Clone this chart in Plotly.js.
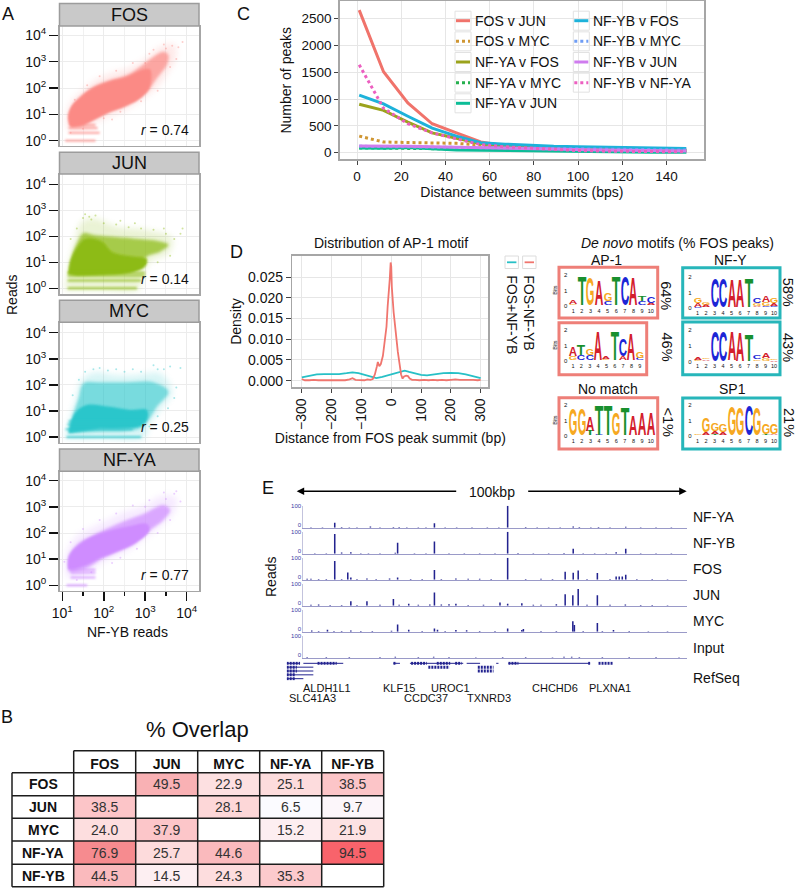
<!DOCTYPE html>
<html>
<head>
<meta charset="utf-8">
<script src="https://cdn.plot.ly/plotly-3.0.1.min.js"></script>
<style>body { margin: 0; background: #fff; }</style>
</head>
<body>
<div id="chart" style="width:797px;height:889px"></div>
<script>
// A: outlines of the read clouds, log10 values
var fosHaloX = [1.12,1.10,1.2,1.45,1.75,2.15,2.6,3.0,3.35,3.7,3.75,3.55,3.3,2.95,2.5,2.1,1.7,1.3];
var fosHaloY = [.45,.95,1.45,1.85,2.25,2.55,2.75,3.1,3.55,3.65,3.2,2.6,2.05,1.6,1.15,.9,.6,.38];
var fosMidX = [1.19,1.16,1.23,1.43,1.75,2.15,2.56,2.88,3.20,3.44,3.56,3.52,3.28,3.08,2.80,2.48,2.15,1.83,1.51,1.23];
var fosMidY = [.59,.91,1.29,1.67,2.05,2.30,2.49,2.81,3.19,3.38,3.25,2.87,2.37,1.92,1.54,1.29,1.10,.85,.59,.53];
var fosCoreX = [1.17,1.14,1.22,1.42,1.72,2.12,2.58,2.95,3.12,3.1,2.85,2.5,2.15,1.83,1.5,1.22];
var fosCoreY = [.58,.94,1.3,1.62,1.98,2.24,2.44,2.7,2.7,2.0,1.58,1.3,1.1,.85,.6,.53];
var fosStripX = [1.07,1.8,null,1.15,1.9,null,1.15,1.85,null,1.2,1.8];
var fosStripY = [0,0,null,.3,.3,null,.48,.48,null,.6,.6];
var fosSpeckX = [1.3,1.6,1.9,2.3,2.7,3.1,3.5,3.65,3.8,3.9,3.3,2.9,2.4,2.0,1.5,1.2,3.6,3.75,2.2,3.0,3.45,3.2];
var fosSpeckY = [1.55,2.1,2.45,2.65,2.95,3.3,3.5,3.6,3.55,3.75,1.9,1.5,1.1,.85,.45,.3,2.8,3.1,.8,2.95,3.65,3.45];

var junHaloX = [1.06,1.15,1.31,1.47,1.75,2.31,3.04,3.65,3.56,3.12,2.92,2.84,1.91,1.10];
var junHaloY = [-.03,.83,1.86,2.56,2.69,2.37,2.24,1.92,1.35,1.03,.45,-.06,-.09,-.09];
var junMidX = [1.15,1.20,1.35,1.51,1.75,2.15,2.72,3.28,3.56,3.36,3.04,2.88,2.56,1.91,1.35];
var junMidY = [.58,1.09,1.73,2.12,2.05,1.99,1.92,1.83,1.67,1.41,1.22,.83,.64,.55,.51];
var junCoreX = [1.15,1.20,1.35,1.55,1.95,2.2,2.7,3.04,3.0,2.7,1.9,1.35];
var junCoreY = [.55,1.05,1.55,1.90,1.80,1.4,1.22,1.12,.85,.62,.52,.5];
var junStripX = [1.13,2.8,null,1.13,2.9,null,1.13,3.0,null,1.13,3.0];
var junStripY = [0,0,null,.3,.3,null,.48,.48,null,.6,.6];
var junSpeckX = [1.2,1.35,1.5,1.65,1.8,2.0,2.3,2.6,2.9,3.2,3.5,3.7,3.85,3.6,3.3,3.0,1.55,1.7,2.4,3.45,3.9,2.75];
var junSpeckY = [1.9,2.3,2.7,2.75,2.8,2.5,2.45,2.35,2.3,2.25,2.1,1.9,2.1,1.25,1.0,.95,2.85,2.65,2.6,2.3,2.3,2.5];

var mycHaloX = [1.06,1.15,1.31,1.47,1.79,2.23,2.80,3.36,3.65,3.36,3.12,2.96,1.91,1.10];
var mycHaloY = [-.03,.52,1.36,2.19,2.48,2.38,2.38,2.44,1.74,1.04,.52,-.05,-.08,-.08];
var mycMidX = [1.15,1.23,1.39,1.51,1.91,2.56,3.20,3.56,3.28,3.08,2.88,1.91];
var mycMidY = [.14,.72,1.48,2.06,2.10,2.10,2.10,1.74,1.16,.65,.33,.20];
var mycCoreX = [1.15,1.20,1.33,1.59,2.15,2.64,3.04,3.04,2.84,1.91];
var mycCoreY = [.14,.52,.97,1.23,1.16,1.04,1.04,.65,.40,.33];
var mycStripX = [1.1,2.9,null,1.08,2.7,null,1.12,2.9,null,1.15,3.0];
var mycStripY = [0,0,null,.3,.3,null,.48,.48,null,.6,.6];
var mycSpeckX = [1.25,1.4,1.55,1.75,2.1,2.5,2.9,3.3,3.6,3.75,3.85,3.55,3.3,3.1,3.45,1.9,2.3,3.7,3.2,2.7];
var mycSpeckY = [1.6,2.2,2.5,2.6,2.55,2.5,2.5,2.6,2.7,1.9,2.65,1.1,.8,.4,2.6,2.65,2.6,1.5,2.75,2.6];

var nfyaHaloX = [1.1,1.08,1.3,1.7,2.1,2.5,3.0,3.35,3.75,3.7,3.4,3.0,2.5,2.0,1.6,1.25];
var nfyaHaloY = [.3,1.1,1.8,2.2,2.5,2.8,3.05,3.4,3.35,2.8,2.3,1.8,1.25,.9,.5,.25];
var nfyaMidX = [1.15,1.15,1.39,1.75,2.15,2.56,2.96,3.44,3.60,3.44,3.12,2.76,2.35,1.91,1.59,1.23];
var nfyaMidY = [.52,1.10,1.61,1.92,2.22,2.50,2.73,3.07,2.88,2.50,2.11,1.61,1.29,.97,.65,.52];
var nfyaCoreX = [1.14,1.17,1.41,1.75,2.15,2.64,3.04,3.1,2.74,2.33,1.91,1.59,1.21];
var nfyaCoreY = [.62,1.14,1.56,1.88,2.1,2.27,2.35,2.1,1.6,1.3,1.04,.78,.6];
var nfyaStripX = [1.1,1.6,null,1.2,1.8,null,1.2,1.8,null,1.2,1.8];
var nfyaStripY = [0,0,null,.3,.3,null,.48,.48,null,.6,.6];
var nfyaSpeckX = [1.05,1.2,1.5,1.9,2.3,2.7,3.1,3.45,3.7,3.85,3.6,3.3,2.8,2.2,1.7,1.35,3.5,3.75,3.0,2.4];
var nfyaSpeckY = [.9,1.65,2.15,2.5,2.75,3.05,3.25,3.55,3.5,3.2,2.5,2.0,1.4,.85,.5,.2,3.3,3.6,3.0,1.05];

var scatterNames = ['FOS','JUN','MYC','NF-YA'];
var scatterColors = ['#fb8a85','#8dbb12','#2cc6cb','#cf8cff'];
var scatterMidAlpha = [.7,.72,.55,.7];
var scatterR = ['0.74','0.14','0.25','0.77'];
var logTickVals = [0,1,2,3,4];
var logTickText = ['10<sup>0</sup>','10<sup>1</sup>','10<sup>2</sup>','10<sup>3</sup>','10<sup>4</sup>'];

// B
var overlapNames = ['FOS','JUN','MYC','NF-YA','NF-YB'];
var overlapFos = [null,49.5,22.9,25.1,38.5];
var overlapJun = [38.5,null,28.1,6.5,9.7];
var overlapMyc = [24.0,37.9,null,15.2,21.9];
var overlapNfya = [76.9,25.7,44.6,null,94.5];
var overlapNfyb = [44.5,14.5,24.3,35.3,null];

// C
var summitDist = [1,12,23,34,45,56,67,78,89,100,111,122,133,144,149];
var fosJun = [2660,1510,930,540,370,200,130,100,90,80,70,65,60,55,50];
var fosMyc = [310,200,190,180,175,140,110,95,80,70,60,55,50,45,40];
var nfyaFos = [905,790,570,370,270,170,120,95,80,70,60,55,50,45,40];
var nfyaMyc = [90,85,80,70,60,55,50,45,40,40,35,30,30,25,25];
var nfyaJun = [90,85,95,75,50,45,40,30,20,15,15,12,10,10,10];
var nfybFos = [1075,910,680,460,310,185,160,135,120,110,105,100,95,85,80];
var nfybMyc = [120,115,110,100,90,85,80,75,70,70,70,65,60,55,50];
var nfybJun = [125,125,120,110,100,90,85,75,65,55,50,45,40,35,30];
var nfybNfya = [1640,830,540,370,260,150,110,85,60,40,30,25,20,20,15];

// D
var redX = [-300,-290,-275,-260,-245,-230,-215,-200,-185,-170,-155,-140,-130,-120,-105,-90,-80,-70,-62,-55,-48,-45,-40,-35,-28,-24,-20,-16,-12,-8,-5,-2,0,2,5,8,11,15,18,22,28,33,38,43,50,56,62,70,80,95,110,125,140,155,170,185,200,215,230,245,260,275,290,300];
var redY = [.0004,.0001,.0001,.0002,.0001,.0001,.0002,.0002,.0001,.0002,.0001,.0003,.0006,.0002,.0002,.0001,.0003,.0002,.0004,.0015,.0035,.0045,.0035,.004,.006,.0085,.0105,.013,.018,.021,.0245,.0285,.0275,.0225,.0185,.0165,.0145,.011,.009,.007,.004,.0015,.0005,.001,.0012,.0011,.0005,.0002,.0002,.0001,.0002,.0001,.0002,.0001,.0002,.0001,.0002,.0003,.0002,.0002,.0003,.0002,.0001,.0002];
var cyanX = [-300,-275,-250,-225,-200,-175,-150,-130,-110,-90,-70,-50,-30,-10,10,30,45,60,80,100,120,150,175,200,225,250,275,300];
var cyanY = [.0008,.0012,.0015,.0016,.0016,.0016,.0018,.002,.0018,.0014,.0009,.0006,.0009,.0013,.0018,.0022,.0024,.0021,.0017,.0014,.0013,.0016,.0018,.0019,.0018,.0015,.0011,.0006];

// logos: letters from the bottom of each stack up, heights in bits
var logoAp1A = [['G.12','A.28'],['T1.95'],['G1.85'],['A1.7'],['C.25','G.55'],['T1.9'],['C1.9'],['A1.85'],['C.25','T.35'],['A.15','C.4']];
var logoAp1B = [['G.25','A.6'],['C.35','T.7'],['C.3','G.4'],['A1.9'],['G.05','A.15'],['T1.95'],['A.25','C1.1'],['A1.8'],['C.15','G.45']];
var logoNoMatch = [['G1.7'],['G1.7'],['T.3','A.9'],['C.05','T1.95'],['T2'],['G1.5'],['T1.8'],['A1.3'],['A1.45'],['A1.5']];
var logoNfyA = [['C.05','A.25','G.3'],['A.15','G.15'],['C1.95'],['C1.95'],['A1.85'],['A1.85'],['T1.9'],['A.1','G.15','C.35'],['C.1','G.25','A.45'],['C.1','A.15','G.3']];
var logoNfyB = [['G.05','A.15'],['A.1','G.1'],['C1.95'],['C1.95'],['T.03','A1.85'],['A1.9'],['T1.7'],['G.1','C.25'],['G.15','A.3'],['A.05','G.05']];
var logoSp1 = [['A.03','G.05'],['A.2','G.9'],['T.1','A.15','G.5'],['A.2','G.5'],['G1.9'],['G1.85'],['C1.95'],['G1.8'],['T.1','G.7'],['A.1','G.65']];
var letterColors = {A: '#d3202c', C: '#1c25d6', G: '#f6a821', T: '#18902e'};

// E: peak positions in kbp from the left of the window, heights in reads
var nfyaPos = [2,5,8.2,10,12,14,17.5,20,23.5,25,27,30,32,34.2,37,40,44,48,51,53.3,58,61,64,67,70.4,72,75,77,80,84.1,88,92,96];
var nfyaReads = [2,2,22,3,2,2,5,2,3,3,2,2,2,20,2,2,2,2,2,100,3,2,2,2,5,3,2,3,2,4,2,2,2];
var nfybPos = [3,6,8.2,10,12.4,15,17,20,24,24.6,29,32,34.2,38,42,46,50,53.3,56,60,64,68,70.4,73,76,79,81.6,84.1,88,92,96];
var nfybReads = [2,2,90,6,7,2,2,2,4,50,2,2,55,2,2,2,2,100,3,2,2,3,23,2,2,2,7,23,2,2,2];
var fosPos = [1,2,4,6,8.2,10,11.6,12.4,14,16.6,19,22.5,24.6,28,31,34.2,36,39.8,43,46,49,53.3,58,62,65,68.3,70.4,71.7,74,76.7,80,81.6,82.4,83.2,84.1,87,91,95];
var fosReads = [4,4,3,3,85,3,33,10,3,6,3,5,10,3,3,44,3,5,4,4,3,100,3,4,3,36,32,42,3,30,3,14,14,14,23,3,3,2];
var junPos = [2,4,7,10,12.4,14,16.6,20,23.5,25,27.5,30,33,34.2,36,38,39.8,43,47,51.3,53.3,57,60,62,66,68.3,70.3,71.7,74,76.7,80,84,88,91,95];
var junReads = [4,5,3,3,20,3,20,4,30,4,9,4,5,60,6,7,9,3,4,15,9,11,4,4,7,52,48,76,4,48,4,6,3,3,2];
var mycPos = [2.2,4,6.3,8,10,12.4,15,18,23,24.6,27.5,31,34.2,35,37,39.8,42.6,46,50,53.3,57,57.4,62,66,70.3,70.7,73,76.7,78,80.9,85,90,95];
var mycReads = [6,3,9,3,3,5,3,3,4,33,9,3,15,9,3,8,7,3,3,14,8,12,3,3,47,30,3,40,3,8,3,2,2];
var inputPos = [1,6,12,20,24,30,34,38,45,52,58,65,68,70,72,78,85,92,98];
var inputReads = [3,3,3,3,4,3,4,3,2,3,3,2,4,4,3,3,3,3,2];
var geneThinX = [-4.35,-.87,null,0,10.4,null,23.5,25.2,null,27.8,41.7,null,42.6,46.1,null,50.3,50.9,null,53.5,74.8,null,-4.35,2.6,null,-4.35,2.6,null,-4.35,2.6,null,-4.35,0];
var geneThinY = [1,1,null,1,1,null,1,1,null,1,1,null,1,1,null,1,1,null,1,1,null,2,2,null,3,3,null,4,4,null,5,5];
var geneExonX = [-4.35,-.87,null,3.7,8.7,null,23.5,24.3,null,28.1,32.2,null,34.8,38.3,null,39.6,41.3,null,53.5,56.1,null,74.3,74.8,null,77,80.9,null,-4.35,-1.7,null,32.6,38.1,null,45.5,49.6,null,-4.35,-1.7,null,45.5,49.6,null,-4.35,-2,null,-4.35,-2];
var geneExonY = [1,1,null,1,1,null,1,1,null,1,1,null,1,1,null,1,1,null,1,1,null,1,1,null,1,1,null,2,2,null,2,2,null,2,2,null,3,3,null,3,3,null,4,4,null,5,5];

var W = 797, H = 889;
var FONT = 'Liberation Sans';
var gd = document.getElementById('chart');
var traces = [], shapes = [], annotations = [];
var logoLetters = {};
var layout = {
    width: W, height: H, autosize: false,
    margin: {l: 0, r: 0, t: 0, b: 0},
    paper_bgcolor: '#fff', plot_bgcolor: '#fff',
    font: {family: FONT, size: 14, color: '#111'},
    showlegend: false, hovermode: false, barmode: 'overlay'
};
var axisCount = 0;

function px(x) { return x / W; }
function py(y) { return 1 - y / H; }

// new axis pair placed by pixel box, returns the trace refs
function addAxes(x0, x1, y0, y1, xOpts, yOpts) {
    axisCount++;
    var n = axisCount === 1 ? '' : String(axisCount);
    xOpts.domain = [px(x0), px(x1)];
    xOpts.anchor = 'y' + n;
    yOpts.domain = [py(y1), py(y0)];
    yOpts.anchor = 'x' + n;
    layout['xaxis' + n] = xOpts;
    layout['yaxis' + n] = yOpts;
    return {x: 'x' + n, y: 'y' + n};
}

function note(text, x, y, size, opts) {
    var a = {text: text, x: px(x), y: py(y), xref: 'paper', yref: 'paper', showarrow: false,
        xanchor: 'center', yanchor: 'middle', font: {family: FONT, size: size, color: '#111'}};
    for (var k in (opts || {})) { a[k] = opts[k]; }
    annotations.push(a);
}

function box(x0, y0, x1, y1, line, fill, layer) {
    shapes.push({type: 'rect', xref: 'paper', yref: 'paper', x0: px(x0), x1: px(x1), y0: py(y0), y1: py(y1),
        line: line, fillcolor: fill || 'rgba(0,0,0,0)', layer: layer || 'above'});
}

function rule(x0, y0, x1, y1, color, width, dash) {
    shapes.push({type: 'line', xref: 'paper', yref: 'paper', x0: px(x0), x1: px(x1), y0: py(y0), y1: py(y1),
        line: {color: color, width: width, dash: dash || 'solid'}, layer: 'above'});
}

// ---- panel letters
note('A', 8, 14, 18); note('B', 7, 717, 18); note('C', 243, 14, 18); note('D', 236, 252, 18); note('E', 268, 488, 18);

// ---- A: four read clouds
function drawCloud(i, top, bottom, stripTop, y4, y0, halo, mid, core, strip, speck, rY) {
    var last = i === 3;
    var decade = (y0 - y4) / 4;
    var xDecade = 41.4;
    var refs = addAxes(59.5, 199, top, bottom, {
        range: [1 - 2.8 / xDecade, 4 + 12.3 / xDecade],
        tickvals: logTickVals.slice(1), ticktext: logTickText.slice(1),
        showticklabels: last, ticks: last ? 'outside' : '', ticklen: 9, tickwidth: 1.5, tickcolor: '#111',
        tickfont: {size: 14}, showline: true, mirror: true, linecolor: '#a6a6a6', linewidth: 1.5,
        gridcolor: '#ececec', zeroline: false,
        minor: {tickvals: [1.5,2.5,3.5], ticks: last ? 'outside' : '', ticklen: 4, tickwidth: 1.5, tickcolor: '#111', showgrid: true, gridcolor: '#f1f1f1'}
    }, {
        range: [-(bottom - y0) / decade, 4 + (y4 - top) / decade],
        tickvals: logTickVals, ticktext: logTickText, ticks: 'outside', ticklen: 9, tickwidth: 1.5, tickcolor: '#111',
        tickfont: {size: 14}, showline: true, mirror: true, linecolor: '#a6a6a6', linewidth: 1.5,
        gridcolor: '#ececec', zeroline: false
    });
    var color = scatterColors[i];
    traces.push({x: halo[0], y: halo[1], xaxis: refs.x, yaxis: refs.y, mode: 'lines', fill: 'toself', fillcolor: color, opacity: .18,
        line: {shape: 'spline', width: 0, color: color}});
    traces.push({x: mid[0], y: mid[1], xaxis: refs.x, yaxis: refs.y, mode: 'lines', fill: 'toself', fillcolor: color, opacity: scatterMidAlpha[i],
        line: {shape: 'spline', width: 0, color: color}});
    traces.push({x: core[0], y: core[1], xaxis: refs.x, yaxis: refs.y, mode: 'lines', fill: 'toself', fillcolor: color,
        line: {shape: 'spline', width: 0, color: color}});
    traces.push({x: strip[0], y: strip[1], xaxis: refs.x, yaxis: refs.y, mode: 'lines', opacity: .8,
        line: {width: 2, color: color}});
    traces.push({x: speck[0], y: speck[1], xaxis: refs.x, yaxis: refs.y, mode: 'markers', opacity: .4,
        marker: {size: 2, color: color}});
    box(59.5, stripTop, 199, top, {color: '#9c9c9c', width: 1.5}, '#c9c9c9');
    note(scatterNames[i], 129, (stripTop + top) / 2, 18);
    note('<i>r</i> = ' + scatterR[i], 165, rY, 14);
}
drawCloud(0, 26, 145.5, 3.5, 35.3, 140.7, [fosHaloX,fosHaloY], [fosMidX,fosMidY], [fosCoreX,fosCoreY], [fosStripX,fosStripY], [fosSpeckX,fosSpeckY], 130);
drawCloud(1, 174, 294.3, 152.3, 184.3, 288.3, [junHaloX,junHaloY], [junMidX,junMidY], [junCoreX,junCoreY], [junStripX,junStripY], [junSpeckX,junSpeckY], 279.3);
drawCloud(2, 322.3, 442.5, 300.3, 332.7, 437, [mycHaloX,mycHaloY], [mycMidX,mycMidY], [mycCoreX,mycCoreY], [mycStripX,mycStripY], [mycSpeckX,mycSpeckY], 427.3);
drawCloud(3, 471.3, 590.7, 449, 480.7, 585.3, [nfyaHaloX,nfyaHaloY], [nfyaMidX,nfyaMidY], [nfyaCoreX,nfyaCoreY], [nfyaStripX,nfyaStripY], [nfyaSpeckX,nfyaSpeckY], 575);
note('Reads', 12, 295, 14, {textangle: -90});
note('NF-YB reads', 128, 632, 14);

// ---- B: overlap table
var overlapRefs = addAxes(73.7, 383.7, 772.7, 886.7, {
    type: 'category', side: 'top', ticks: '', showgrid: false, zeroline: false,
    tickfont: {size: 14, weight: 'bold'}
}, {
    type: 'category', autorange: 'reversed', showticklabels: false, ticks: '', showgrid: false, zeroline: false
});
traces.push({type: 'heatmap', x: overlapNames, y: overlapNames,
    z: [overlapFos, overlapJun, overlapMyc, overlapNfya, overlapNfyb],
    xaxis: overlapRefs.x, yaxis: overlapRefs.y, zmin: 0, zmax: 100, showscale: false,
    colorscale: [[0,'#ffffff'],[.065,'#fbfbff'],[.15,'#fdeef1'],[.25,'#fddcdd'],[.385,'#fcc5c8'],[.5,'#f9b0b3'],[.77,'#f68b8f'],[.945,'#f8636b'],[1,'#f65a62']],
    texttemplate: '%{z:.1f}', textfont: {family: FONT, size: 14, color: '#333'}, hoverinfo: 'skip'});
var tableColX = [73.7,135.7,197.7,259.7,321.7,383.7];
var tableRowY = [772.7,795.7,818.3,841,864.3,886.7];
tableColX.forEach(function(x) { rule(x, 750.7, x, 886.7, '#1c1c1c', 1.5); });
tableRowY.forEach(function(y) { rule(12, y, 383.7, y, '#1c1c1c', 1.5); });
rule(73.7, 750.7, 383.7, 750.7, '#1c1c1c', 1.5);
rule(12, 772.7, 12, 886.7, '#1c1c1c', 1.5);
overlapNames.forEach(function(name, i) {
    note('<b>' + name + '</b>', 43, (tableRowY[i] + tableRowY[i + 1]) / 2, 14);
});
note('% Overlap', 197, 729, 22);

// ---- C: distance between summits
var cRefs = addAxes(339.7, 704, 1.3, 159.3, {
    range: [-7.83, 157], dtick: 20, tick0: 0, ticks: 'outside', ticklen: 4, tickcolor: '#444',
    tickfont: {size: 13.5}, showline: true, mirror: true, linecolor: '#a6a6a6', linewidth: 1.5,
    gridcolor: '#e6e6e6', zeroline: false,
    title: {text: 'Distance between summits (bps)', font: {size: 14}, standoff: 4}
}, {
    range: [-123, 2825], tickvals: [0,500,1000,1500,2000,2500], ticks: 'outside', ticklen: 4, tickcolor: '#444',
    tickfont: {size: 13.5}, showline: true, mirror: true, linecolor: '#a6a6a6', linewidth: 1.5,
    gridcolor: '#e6e6e6', zeroline: false,
    title: {text: 'Number of peaks', font: {size: 14}, standoff: 6}
});
var overlapSeries = [
    {name: 'FOS v JUN', y: fosJun, color: '#f0736b', dash: 'solid'},
    {name: 'FOS v MYC', y: fosMyc, color: '#cf9633', dash: 'dot'},
    {name: 'NF-YA v FOS', y: nfyaFos, color: '#9ba31c', dash: 'solid'},
    {name: 'NF-YA v MYC', y: nfyaMyc, color: '#25b04e', dash: 'dot'},
    {name: 'NF-YA v JUN', y: nfyaJun, color: '#0cbd97', dash: 'solid'},
    {name: 'NF-YB v FOS', y: nfybFos, color: '#1db2da', dash: 'solid'},
    {name: 'NF-YB v MYC', y: nfybMyc, color: '#6f9df5', dash: 'dot'},
    {name: 'NF-YB v JUN', y: nfybJun, color: '#cf7cee', dash: 'solid'},
    {name: 'NF-YB v NF-YA', y: nfybNfya, color: '#ec5fc0', dash: 'dot'}
];
overlapSeries.forEach(function(s, i) {
    traces.push({x: summitDist, y: s.y, xaxis: cRefs.x, yaxis: cRefs.y, mode: 'lines', name: s.name,
        line: {color: s.color, width: 3, dash: s.dash}});
    var col = i < 5 ? 0 : 1;
    var row = i < 5 ? i : i - 5;
    var kx = col === 0 ? 455 : 573.3;
    var ky = 20.7 + row * 20.65;
    box(kx, ky - 9.5, kx + 16, ky + 9.5, {color: '#e2e2e2', width: 1});
    rule(kx + 1, ky, kx + 15, ky, s.color, 3, s.dash);
    note(s.name, kx + 17.5, ky, 14, {xanchor: 'left'});
});

// ---- D: AP-1 motif density
var dRefs = addAxes(292.3, 488.3, 255.7, 387.3, {
    range: [-332, 325.6], tickvals: [-300,-200,-100,0,100,200,300], tickangle: -90, ticks: 'outside', ticklen: 4, tickcolor: '#444',
    tickfont: {size: 14}, showline: true, mirror: true, linecolor: '#a6a6a6', linewidth: 1.5,
    gridcolor: '#e6e6e6', zeroline: false,
    title: {text: 'Distance from FOS peak summit (bp)', font: {size: 14}, standoff: 4}
}, {
    range: [-.0016, .03014], tickvals: [0,.005,.01,.015,.02,.025], tickformat: '.3f', ticks: 'outside', ticklen: 5, tickcolor: '#444',
    tickfont: {size: 14}, showline: true, mirror: true, linecolor: '#a6a6a6', linewidth: 1.5,
    gridcolor: '#e6e6e6', zeroline: false,
    title: {text: 'Density', font: {size: 14}, standoff: 3}
});
traces.push({x: cyanX, y: cyanY, xaxis: dRefs.x, yaxis: dRefs.y, mode: 'lines', name: 'FOS+NF-YB', line: {color: '#27c0c6', width: 1.8}});
traces.push({x: redX, y: redY, xaxis: dRefs.x, yaxis: dRefs.y, mode: 'lines', name: 'FOS-NF-YB', line: {color: '#f0756e', width: 1.8}});
note('Distribution of AP-1 motif', 391, 243, 14);
box(505, 256, 518.4, 268.5, {color: '#dcdcdc', width: 1});
rule(507, 262.3, 516.4, 262.3, '#27c0c6', 1.8);
box(522.6, 256, 536, 268.5, {color: '#dcdcdc', width: 1});
rule(524.6, 262.3, 534, 262.3, '#f0756e', 1.8);
note('FOS+NF-YB', 511.7, 315, 14, {textangle: 90});
note('FOS-NF-YB', 529.3, 312.5, 14, {textangle: 90});

// ---- D: sequence logos
var RED_BOX = '#ee7f78', TEAL_BOX = '#27b6ba';
function drawLogo(letters, boxPx, axisX0, axisX1, y2, y0, color, showBits) {
    box(boxPx[0], boxPx[1], boxPx[2], boxPx[3], {color: color, width: 3}, null);
    var ticks = letters.map(function(d, i) { return i + 1; });
    var refs = addAxes(axisX0, axisX1, y2, y0, {
        range: [.43, letters.length + .5], tickvals: ticks, ticks: '', showgrid: false, zeroline: false,
        tickfont: {size: 5.5}, showline: false
    }, {
        range: [0, 2], tickvals: [0,1,2], ticks: '', showgrid: false, zeroline: false,
        tickfont: {size: 6}, showline: false
    });
    var pxPerBit = (y0 - y2) / 2;
    letters.forEach(function(stack, i) {
        var base = 0;
        stack.forEach(function(item) {
            var ch = item.charAt(0), bits = parseFloat(item.slice(1));
            logoLetters[annotations.length] = {h: bits * pxPerBit, w: (axisX1 - axisX0) / (letters.length + .07)};
            annotations.push({text: '<b>' + ch + '</b>', x: i + 1, y: base, xref: refs.x, yref: refs.y, showarrow: false,
                xanchor: 'center', yanchor: 'bottom', borderpad: 0, font: {family: FONT, size: 20, color: letterColors[ch]}});
            base += bits;
        });
    });
    if (showBits) { note('Bits', boxPx[0] - 4, (y0 + y2) / 2, 5.5, {textangle: -90}); }
}
drawLogo(logoAp1A, [559,267.3,657.7,318], 568.3, 655, 275.3, 306, RED_BOX, true);
drawLogo(logoAp1B, [559,322.7,646.7,374.7], 568.3, 644, 330.3, 361, RED_BOX, true);
drawLogo(logoNoMatch, [559,397.7,657.7,449], 568.3, 655, 405, 436.3, RED_BOX, true);
drawLogo(logoNfyA, [682.7,267.7,780,318], 692.7, 778.3, 277.3, 308.3, TEAL_BOX, false);
drawLogo(logoNfyB, [682.7,322,780,374.7], 692.7, 778.3, 330.3, 361.7, TEAL_BOX, false);
drawLogo(logoSp1, [682.7,398,780,449], 692.7, 778.3, 405, 436.3, TEAL_BOX, false);
note('<i>De novo</i> motifs (% FOS peaks)', 677, 243, 14);
note('AP-1', 606.7, 260, 14); note('NF-Y', 730, 260, 14);
note('No match', 607.7, 389, 14); note('SP1', 732.7, 389, 14);
note('64%', 666.5, 295.7, 14.5, {textangle: 90}); note('46%', 666.5, 347, 14.5, {textangle: 90});
note('<1%', 667.5, 422, 14.5, {textangle: 90}); note('58%', 788, 291.7, 14.5, {textangle: 90});
note('43%', 788, 347, 14.5, {textangle: 90}); note('21%', 789, 422, 14.5, {textangle: 90});

// ---- E: browser tracks
var TRACK_BLUE = '#23238f';
function drawTrack(label, pos, reads, baseline, labelY) {
    var refs = addAxes(303.3, 686.7, baseline - 22, baseline, {
        range: [0, 100], showticklabels: false, ticks: '', showgrid: false, zeroline: false,
        showline: true, linecolor: '#9a9ac8', linewidth: 1
    }, {
        range: [0, 100], tickvals: [12, 100], ticktext: ['0', '100'], ticks: '', showgrid: false, zeroline: false,
        tickfont: {size: 6, color: '#3a3aa5'}, showline: true, linecolor: '#c3c3dd', linewidth: 1
    });
    traces.push({type: 'bar', x: pos, y: reads, width: .4, xaxis: refs.x, yaxis: refs.y, marker: {color: TRACK_BLUE, line: {width: 0}}});
    note(label, 690.7, labelY, 14, {xanchor: 'left'});
}
drawTrack('NF-YA', nfyaPos, nfyaReads, 527.7, 517);
drawTrack('NF-YB', nfybPos, nfybReads, 553.7, 543);
drawTrack('FOS', fosPos, fosReads, 579.7, 569);
drawTrack('JUN', junPos, junReads, 605.7, 595);
drawTrack('MYC', mycPos, mycReads, 631.7, 621);
drawTrack('Input', inputPos, inputReads, 657.7, 648);

var geneRefs = addAxes(286.7, 686.7, 661.4, 680.6, {range: [-4.35, 100], visible: false}, {range: [5.5, .5], visible: false});
traces.push({x: geneThinX, y: geneThinY, xaxis: geneRefs.x, yaxis: geneRefs.y, mode: 'lines', line: {color: TRACK_BLUE, width: 1}});
traces.push({x: geneExonX, y: geneExonY, xaxis: geneRefs.x, yaxis: geneRefs.y, mode: 'lines', line: {color: TRACK_BLUE, width: 3, dash: '2px,1px'}});
note('RefSeq', 690.7, 678, 14, {xanchor: 'left'});
note('Reads', 271, 577, 14, {textangle: -90});

var geneNames = ['ALDH1L1','SLC41A3','KLF15','CCDC37','UROC1','TXNRD3','CHCHD6','PLXNA1'];
var geneLabelX = [327,312,399,426,451,489,555,610];
var geneLabelY = [688,698,688,698,688,698,688,688];
geneNames.forEach(function(g, i) { note(g, geneLabelX[i], geneLabelY[i], 11); });

note('100kbp', 492, 491.5, 14);
annotations.push({x: px(296.7), y: py(491.3), xref: 'paper', yref: 'paper', ax: 161, ay: 0, axref: 'pixel', ayref: 'pixel',
    text: '', showarrow: true, arrowhead: 2, arrowsize: 1, arrowwidth: 1.5, arrowcolor: '#000'});
annotations.push({x: px(686.7), y: py(491.3), xref: 'paper', yref: 'paper', ax: -160, ay: 0, axref: 'pixel', ayref: 'pixel',
    text: '', showarrow: true, arrowhead: 2, arrowsize: 1, arrowwidth: 1.5, arrowcolor: '#000'});

layout.shapes = shapes;
layout.annotations = annotations;

// logo letters keep a fixed column width, only their height follows the bits
function stretchLogoLetters() {
    Object.keys(logoLetters).forEach(function(idx) {
        var spec = logoLetters[idx];
        var g = gd.querySelector('.annotation[data-index="' + idx + '"]');
        if (!g) { return; }
        var text = g.querySelector('text');
        var rect = g.querySelector('rect');
        var tb = text.getBBox();
        var rb = rect.getBBox();
        var sx = spec.w / tb.width;
        var sy = spec.h / (20 * .73);
        var baseY = parseFloat(text.getAttribute('y'));
        text.setAttribute('transform',
            'translate(' + (rb.x + rb.width / 2) + ',' + (rb.y + rb.height) + ') scale(' + sx + ',' + sy + ') ' +
            'translate(' + (-(tb.x + tb.width / 2)) + ',' + (-baseY) + ')');
    });
}

// the clouds are thousands of faint points in the original, soften the outlines
function softenClouds() {
    var svg = gd.querySelector('.main-svg');
    var defs = svg.querySelector('defs');
    var blurs = {cloudHalo: 3, cloudMid: 1.8, cloudCore: 1.2, cloudStrip: .8};
    Object.keys(blurs).forEach(function(id) {
        var f = document.createElementNS('http://www.w3.org/2000/svg', 'filter');
        f.setAttribute('id', id);
        f.setAttribute('x', '-20%'); f.setAttribute('y', '-20%');
        f.setAttribute('width', '140%'); f.setAttribute('height', '140%');
        var b = document.createElementNS('http://www.w3.org/2000/svg', 'feGaussianBlur');
        b.setAttribute('stdDeviation', blurs[id]);
        f.appendChild(b);
        defs.appendChild(f);
    });
    ['xy','x2y2','x3y3','x4y4'].forEach(function(sub) {
        var layer = gd.querySelectorAll('.subplot.' + sub + ' .scatterlayer .trace');
        ['cloudHalo','cloudMid','cloudCore','cloudStrip'].forEach(function(id, i) {
            if (layer[i]) { layer[i].setAttribute('filter', 'url(#' + id + ')'); }
        });
    });
}

Plotly.newPlot(gd, traces, layout, {displayModeBar: false, staticPlot: true}).then(function() {
    stretchLogoLetters();
    softenClouds();
});
</script>
</body>
</html>
